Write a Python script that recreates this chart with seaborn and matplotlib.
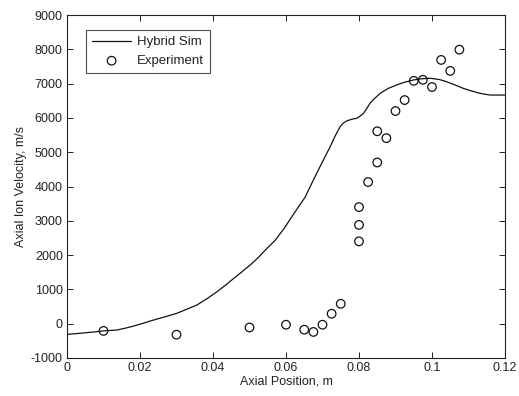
import numpy as np
import pandas as pd
import matplotlib
matplotlib.use("Agg")
import matplotlib.pyplot as plt
import seaborn as sns

# Hybrid simulation curve
sim_x = [0.0, 0.0025, 0.005, 0.0075, 0.01, 0.0137, 0.016, 0.0183, 0.0205, 0.0228,
         0.0265, 0.0301, 0.033, 0.0356, 0.0385, 0.0411, 0.0435, 0.0457, 0.048,
         0.0502, 0.0525, 0.0548, 0.0571, 0.0595, 0.0616, 0.0635, 0.0652, 0.0675,
         0.0698, 0.0721, 0.0735, 0.0748, 0.0757, 0.0766, 0.078, 0.0794, 0.0803,
         0.0812, 0.0821, 0.0830, 0.0840, 0.0858, 0.088, 0.0903, 0.0925, 0.0949,
         0.097, 0.0995, 0.102, 0.1040, 0.1063, 0.1086, 0.111, 0.1132, 0.1159, 0.12]
sim_v = [-310, -290, -265, -240, -210, -184, -130, -67, 0, 79,
         190, 303, 430, 545, 740, 933, 1130, 1323, 1520,
         1711, 1940, 2198, 2440, 2780, 3120, 3420, 3680, 4190,
         4680, 5160, 5480, 5740, 5850, 5910, 5960, 5990, 6050,
         6130, 6270, 6425, 6540, 6715, 6860, 6960, 7040, 7105,
         7140, 7155, 7120, 7055, 6960, 6860, 6780, 6715, 6666, 6666]

# Experimental data
exp_x = [0.01, 0.03, 0.05, 0.06, 0.065, 0.0675, 0.07, 0.0725, 0.075, 0.08, 0.08, 0.08,
         0.0825, 0.085, 0.0875, 0.085, 0.09, 0.0925, 0.095, 0.0975, 0.1, 0.1025,
         0.105, 0.1075]
exp_v = [-210, -320, -110, -30, -175, -240, -30, 290, 580, 2400, 2880, 3400,
         4130, 4700, 5410, 5610, 6200, 6520, 7080, 7110, 6900, 7690,
         7370, 7990]

sim = pd.DataFrame({"x": sim_x, "v": sim_v})
exp = pd.DataFrame({"x": exp_x, "v": exp_v})

sns.set_theme(style="white")
plt.rcParams["font.family"] = ["Liberation Sans", "DejaVu Sans"]
plt.rcParams["xtick.direction"] = "in"
plt.rcParams["ytick.direction"] = "in"
plt.rcParams["axes.unicode_minus"] = False

fig = plt.figure(figsize=(5.19, 3.96), dpi=100)
ax = fig.add_axes([67/519, 1-358/396, (505-67)/519, (358-15)/396])

sns.lineplot(data=sim, x="x", y="v", ax=ax, color="#111111", lw=0.9,
             label="Hybrid Sim", sort=False)
sns.scatterplot(data=exp, x="x", y="v", ax=ax, marker="o", s=38,
                facecolor="none", edgecolor="#111111", linewidth=0.9,
                label="Experiment")

ax.set_xlim(0, 0.12)
ax.set_ylim(-1000, 9000)
ax.set_xticks([0, 0.02, 0.04, 0.06, 0.08, 0.1, 0.12])
ax.set_xticklabels(["0", "0.02", "0.04", "0.06", "0.08", "0.1", "0.12"])
ax.set_yticks(range(-1000, 9001, 1000))
ax.tick_params(axis="both", which="both", labelsize=9, colors="#222222",
               length=4, width=0.7, top=True, right=True, bottom=True, left=True,
               pad=3)
for s in ax.spines.values():
    s.set_color("#222222")
    s.set_linewidth(0.8)

ax.set_xlabel("Axial Position, m", fontsize=9, color="#222222", labelpad=1)
ax.set_ylabel("Axial Ion Velocity, m/s", fontsize=9, color="#222222", labelpad=3)

leg = ax.legend(loc="upper left", bbox_to_anchor=(0.028, 0.975), fontsize=9.5,
                frameon=True, fancybox=False, edgecolor="#222222",
                handlelength=3.0, borderpad=0.45, labelspacing=0.5,
                handletextpad=0.4)
leg.get_frame().set_linewidth(0.8)
for t in leg.get_texts():
    t.set_color("#222222")

fig.savefig("out.png", dpi=100)
